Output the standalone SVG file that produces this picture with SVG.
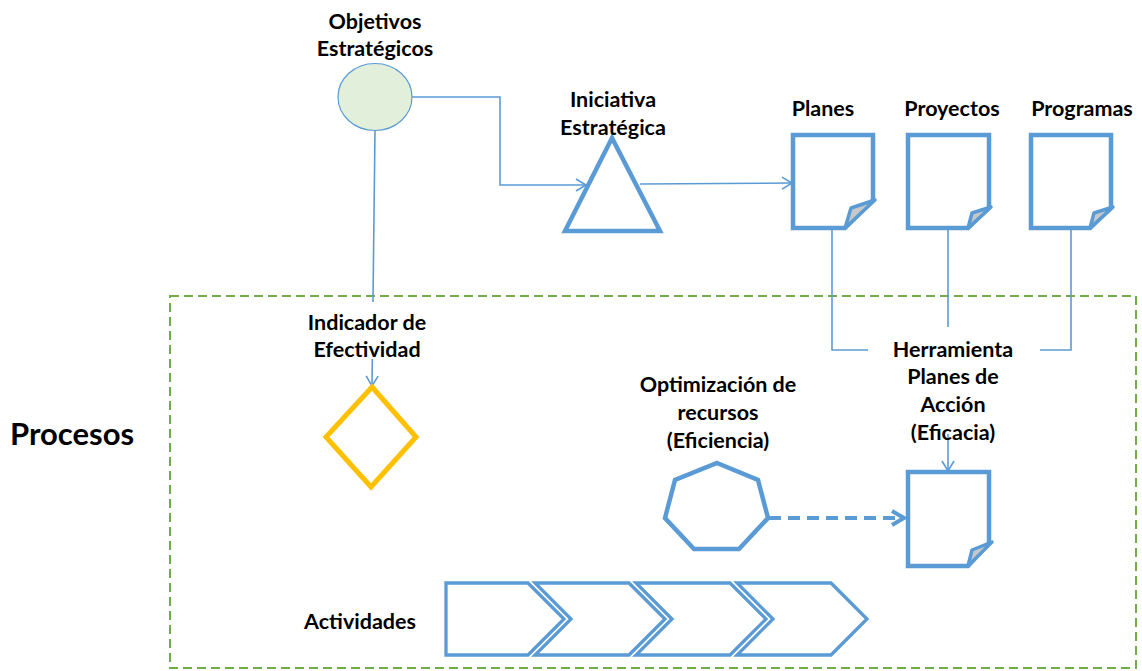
<svg xmlns="http://www.w3.org/2000/svg" width="1142" height="671" viewBox="0 0 1142 671">
  <style>
    .lbl { font-family: Lato, "Liberation Sans", sans-serif; font-weight: bold; font-size: 21.5px; fill: #000; text-anchor: middle; }
    .big { font-size: 31px; text-anchor: start; }
    .shape { fill: #fff; stroke: #5b9bd5; stroke-width: 4.5; stroke-linejoin: miter; }
    .chev { fill: #fff; stroke: #5b9bd5; stroke-width: 3.3; stroke-linejoin: miter; }
    .flap { fill: #c8c8c8; stroke: #5b9bd5; stroke-width: 3.5; stroke-linejoin: round; }
    .conn { fill: none; stroke: #5b9bd5; stroke-width: 1.6; }
    .dash { fill: none; stroke: #5b9bd5; stroke-width: 4; stroke-dasharray: 12 7; }
  </style>
  <defs>
    <marker id="arrow" markerUnits="userSpaceOnUse" markerWidth="16" markerHeight="16" refX="12" refY="8" orient="auto">
      <path d="M2,2 L12,8 L2,14" fill="none" stroke="#5b9bd5" stroke-width="1.6"/>
    </marker>
    <marker id="arrowBold" markerUnits="userSpaceOnUse" markerWidth="20" markerHeight="20" refX="16" refY="10" orient="auto">
      <path d="M4,3 L16,10 L4,17" fill="none" stroke="#5b9bd5" stroke-width="4"/>
    </marker>
  </defs>

  <rect width="1142" height="671" fill="#fff"/>

  <!-- process boundary -->
  <rect id="processes-frame" x="170" y="296" width="966" height="372" fill="none" stroke="#70ad47" stroke-width="2" stroke-dasharray="9 5"/>
  <text class="lbl big" x="10" y="445">Procesos</text>

  <!-- connectors -->
  <g id="connectors">
    <path class="conn" d="M412,97 H500 V185 H586" marker-end="url(#arrow)"/>
    <path class="conn" d="M640,184 L792,183" marker-end="url(#arrow)"/>
    <path class="conn" d="M375,130 L372,386" marker-end="url(#arrow)"/>
    <path class="conn" d="M832,229 V350 H868"/>
    <path class="conn" d="M948,229 V327"/>
    <path class="conn" d="M1071,229 V350 H1040"/>
    <path class="conn" d="M948,434 V471" marker-end="url(#arrow)"/>
    <path class="dash" d="M769,518 H904" marker-end="url(#arrowBold)"/>
  </g>

  <g id="objetivos">
    <ellipse cx="375" cy="97" rx="37" ry="33.5" fill="#e2efda" stroke="#5b9bd5" stroke-width="1.2"/>
    <text class="lbl" x="375" y="29">Objetivos</text>
    <text class="lbl" x="375" y="56">Estratégicos</text>
  </g>

  <g id="iniciativa">
    <polygon class="shape" points="612,138 565,231 660,231"/>
    <text class="lbl" x="613" y="107">Iniciativa</text>
    <text class="lbl" x="613" y="135">Estratégica</text>
  </g>

  <g id="planes">
    <path class="shape" d="M793,135 H873 V200 L845,228 H793 Z"/>
    <path class="flap" d="M845,228 L851,208 L875,200 Z"/>
    <text class="lbl" x="823" y="116">Planes</text>
  </g>

  <g id="proyectos">
    <path class="shape" d="M908,135 H989 V208 L968,228 H908 Z"/>
    <path class="flap" d="M968,228 L972,213 L991,207 Z"/>
    <text class="lbl" x="952" y="116">Proyectos</text>
  </g>

  <g id="programas">
    <path class="shape" d="M1031,135 H1111 V208 L1090,228 H1031 Z"/>
    <path class="flap" d="M1090,228 L1094,213 L1113,207 Z"/>
    <text class="lbl" x="1082" y="116">Programas</text>
  </g>

  <g id="indicador">
    <rect x="296" y="302" width="145" height="57" fill="#fff"/>
    <polygon points="372,387 416,437 371,487 326,437" fill="#fff" stroke="#ffc000" stroke-width="5"/>
    <text class="lbl" x="367" y="330">Indicador de</text>
    <text class="lbl" x="367" y="357">Efectividad</text>
  </g>

  <g id="herramienta">
    <text class="lbl" x="953" y="357">Herramienta</text>
    <text class="lbl" x="953" y="384">Planes de</text>
    <text class="lbl" x="953" y="412">Acción</text>
    <text class="lbl" x="953" y="440">(Eficacia)</text>
  </g>

  <g id="plan-accion">
    <path class="shape" d="M908,472 H989 V543 L968,566 H908 Z"/>
    <path class="flap" d="M968,566 L972,550 L992,542 Z"/>
  </g>

  <g id="optimizacion">
    <polygon class="shape" points="717,463 758,480 768,518 739,549 694,549 665,518 675,480"/>
    <text class="lbl" x="718" y="392">Optimización de</text>
    <text class="lbl" x="718" y="420">recursos</text>
    <text class="lbl" x="718" y="448">(Eficiencia)</text>
  </g>

  <g id="actividades">
    <text class="lbl" x="360" y="629">Actividades</text>
    <path class="chev" d="M446,583 H528 L564,619 L528,655 H446 Z"/>
    <path class="chev" d="M535,583 H629 L665,619 L629,655 H535 L571,619 Z"/>
    <path class="chev" d="M636,583 H730 L766,619 L730,655 H636 L672,619 Z"/>
    <path class="chev" d="M737,583 H831 L867,619 L831,655 H737 L773,619 Z"/>
  </g>
</svg>
